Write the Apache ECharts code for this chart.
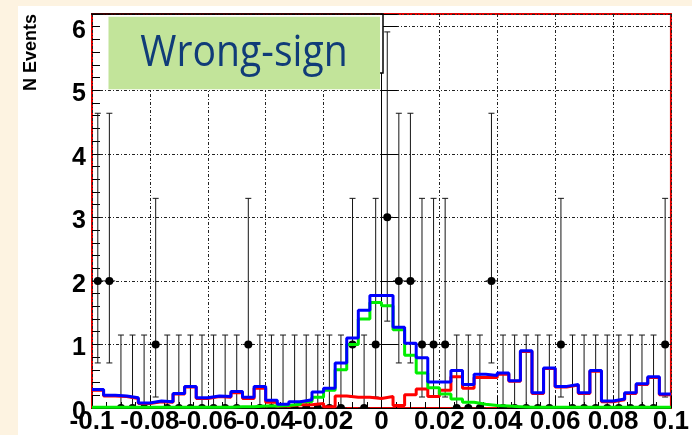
<!DOCTYPE html>
<html>
<head>
<meta charset="utf-8">
<script src="https://cdn.jsdelivr.net/npm/echarts@6/dist/echarts.min.js"></script>
<style>
  html, body { margin: 0; padding: 0; background: #fdf3e1; }
  #chart { width: 692px; height: 435px; }
</style>
</head>
<body>
<div id="chart"></div>
<script>
// Binning of the histogram: 50 bins across [-0.1, 0.1]
const BIN_MIN = -0.1;
const BIN_WIDTH = 0.004;

const xTickLabels = ['-0.1', '-0.08', '-0.06', '-0.04', '-0.02', '0', '0.02', '0.04', '0.06', '0.08', '0.1'];
const yTickLabels = ['0', '1', '2', '3', '4', '5', '6'];

// Observed events per bin
const dataCounts = [
  2, 2, 0, 0, 0, 1, 0, 0, 0, 0,
  0, 0, 0, 1, 0, 0, 0, 0, 0, 0,
  0, 0, 1, 0, 1, 3, 2, 2, 1, 1,
  1, 0, 0, 0, 2, 0, 0, 0, 0, 0,
  1, 0, 0, 0, 0, 0, 0, 0, 0, 1
];

// Total fit (blue)
const totalFit = [
  0.29, 0.20, 0.19, 0.16, 0.08, 0.11, 0.10, 0.23, 0.34, 0.16,
  0.19, 0.18, 0.26, 0.17, 0.34, 0.12, 0.06, 0.10, 0.13, 0.25,
  0.31, 0.71, 1.10, 1.54, 1.77, 1.77, 1.27, 1.02, 0.79, 0.41,
  0.41, 0.59, 0.37, 0.53, 0.51, 0.55, 0.43, 0.90, 0.24, 0.63,
  0.34, 0.37, 0.24, 0.59, 0.11, 0.14, 0.24, 0.38, 0.49, 0.22
];

// Signal component (green)
const signalFit = [
  0.01, 0.01, 0.01, 0.01, 0.01, 0.01, 0.01, 0.01, 0.01, 0.01,
  0.01, 0.01, 0.02, 0.02, 0.03, 0.03, 0.04, 0.06, 0.10, 0.17,
  0.28, 0.60, 1.00, 1.40, 1.66, 1.61, 1.23, 0.83, 0.55, 0.32,
  0.22, 0.14, 0.09, 0.06, 0.04, 0.03, 0.02, 0.01, 0.01, 0.01,
  0.01, 0.01, 0.01, 0.01, 0.01, 0.01, 0.01, 0.01, 0.01, 0.01
];

// Background component (red)
const backgroundFit = [
  0.28, 0.19, 0.18, 0.15, 0.07, 0.10, 0.09, 0.22, 0.33, 0.15,
  0.18, 0.17, 0.24, 0.15, 0.31, 0.09, 0.03, 0.05, 0.05, 0.07,
  0.02, 0.19, 0.17, 0.17, 0.15, 0.18, 0.04, 0.21, 0.30, 0.18,
  0.28, 0.49, 0.31, 0.48, 0.48, 0.53, 0.42, 0.89, 0.23, 0.62,
  0.33, 0.36, 0.23, 0.58, 0.10, 0.13, 0.23, 0.37, 0.48, 0.21
];

// 68% Poisson interval (lower / upper distance) indexed by observed count
const poissonLow = [0, 0.827, 1.291, 1.633];
const poissonHigh = [1.148, 2.299, 2.638, 2.918];

// Outline of a histogram: two points per bin at its edges
function stepPoints(values) {
  const pts = [];
  values.forEach(function (v, i) {
    const lo = BIN_MIN + i * BIN_WIDTH;
    pts.push([lo, v], [lo + BIN_WIDTH, v]);
  });
  return pts;
}

const pointData = dataCounts.map(function (n, i) {
  return [BIN_MIN + (i + 0.5) * BIN_WIDTH, n, poissonLow[n], poissonHigh[n]];
});

const LABEL_FONT = '"Liberation Sans", Arial, sans-serif';

function renderPoint(params, api) {
  const x = api.value(0), n = api.value(1), lo = api.value(2), hi = api.value(3);
  const c = api.coord([x, n]);
  const top = api.coord([x, n + hi]);
  const bot = api.coord([x, n - lo]);
  const left = api.coord([x - BIN_WIDTH / 2, n]);
  const right = api.coord([x + BIN_WIDTH / 2, n]);
  const st = { stroke: '#151515', lineWidth: 1 };
  const children = [
    { type: 'line', shape: { x1: c[0], y1: top[1], x2: c[0], y2: bot[1] }, style: st },
    { type: 'line', shape: { x1: c[0] - 3, y1: top[1], x2: c[0] + 3, y2: top[1] }, style: st },
    { type: 'line', shape: { x1: left[0], y1: c[1], x2: right[0], y2: c[1] }, style: st },
    { type: 'circle', shape: { cx: c[0], cy: c[1], r: 4 }, style: { fill: '#000' } }
  ];
  if (lo > 0) {
    children.push({ type: 'line', shape: { x1: c[0] - 3, y1: bot[1], x2: c[0] + 3, y2: bot[1] }, style: st });
  }
  return { type: 'group', children: children };
}

const chart = echarts.init(document.getElementById('chart'), null, { renderer: 'canvas' });

const gridLine = { show: true, lineStyle: { color: '#222', width: 1, type: [3, 2, 1, 2] } };

chart.setOption({
  animation: false,
  backgroundColor: '#fdf3e1',
  grid: {
    left: 92, right: 17, top: 14, bottom: 25.5,
    show: true, backgroundColor: '#ffffff', borderColor: '#e00000', borderWidth: 2
  },
  xAxis: {
    type: 'value', min: -0.1, max: 0.1, interval: 0.02,
    axisLine: { show: true, onZero: false, lineStyle: { color: '#000', width: 1 } },
    axisTick: { show: true, inside: true, length: 12, lineStyle: { color: '#000' } },
    minorTick: { show: true, splitNumber: 4, length: 6, lineStyle: { color: '#000' } },
    splitLine: gridLine,
    axisLabel: {
      show: true, margin: 1, hideOverlap: false, showMinLabel: true, showMaxLabel: true,
      fontFamily: LABEL_FONT, fontWeight: 'bold', fontSize: 26, color: '#000',
      formatter: function (v, idx) { return xTickLabels[idx] !== undefined ? xTickLabels[idx] : ''; }
    }
  },
  yAxis: [
    {
      type: 'value', min: 0, max: 6.2, interval: 1,
      axisLine: { show: true, lineStyle: { color: '#000', width: 1 } },
      axisTick: { show: true, inside: true, length: 16, lineStyle: { color: '#000' } },
      splitLine: gridLine,
      axisLabel: {
        show: true, margin: 6,
        fontFamily: LABEL_FONT, fontWeight: 'bold', fontSize: 25, color: '#000',
        formatter: function (v, idx) { return yTickLabels[idx] !== undefined ? '{n|' + yTickLabels[idx] + '}' : ''; },
        rich: { n: { fontFamily: LABEL_FONT, fontWeight: 'bold', fontSize: 25, color: '#000', padding: [8, 0, 0, 0] } }
      }
    },
    {
      // finer tick marks every 0.2
      type: 'value', min: 0, max: 6.2, interval: 0.2, position: 'left',
      axisLine: { show: false },
      axisTick: { show: true, inside: true, length: 8, lineStyle: { color: '#000' } },
      splitLine: { show: false },
      axisLabel: { show: false }
    }
  ],
  graphic: [
    { type: 'rect', z: -100, shape: { x: 18, y: 6, width: 674, height: 429 }, style: { fill: '#ffffff' }, silent: true },
    // stat box sitting behind the title
    { type: 'rect', z: 100, shape: { x: 100, y: 15, width: 283, height: 58 }, style: { fill: '#ffffff' } },
    { type: 'polyline', z: 100, shape: { points: [[91, 14], [383, 14], [383, 73], [380, 73]] }, style: { stroke: '#000', lineWidth: 1.5, fill: null } },
    { type: 'rect', z: 101, shape: { x: 108.5, y: 16.7, width: 271.5, height: 72.6 }, style: { fill: '#c2e49a' } },
    {
      type: 'text', z: 102, x: 244, y: 53, scaleX: 0.89,
      style: { text: 'Wrong-sign', font: '44px "Open Sans", sans-serif', fill: '#103c78', align: 'center', verticalAlign: 'middle' }
    },
    {
      type: 'text', z: 102, x: 31, y: 52.5, rotation: Math.PI / 2,
      style: { text: 'N Events', font: 'bold 18px "Liberation Sans", Arial, sans-serif', fill: '#000', align: 'center', verticalAlign: 'middle' }
    }
  ],
  series: [
    {
      type: 'custom', name: 'data', z: 2, clip: true,
      encode: { x: 0, y: 1 },
      data: pointData,
      renderItem: renderPoint
    },
    {
      type: 'line', name: 'background', z: 3, clip: true, symbol: 'none',
      data: stepPoints(backgroundFit),
      lineStyle: { color: '#ff0000', width: 3 }
    },
    {
      type: 'line', name: 'signal', z: 4, clip: true, symbol: 'none',
      data: stepPoints(signalFit),
      lineStyle: { color: '#00ee00', width: 3 }
    },
    {
      type: 'line', name: 'total', z: 5, clip: true, symbol: 'none',
      data: stepPoints(totalFit),
      lineStyle: { color: '#0000ff', width: 3 }
    }
  ]
});
</script>
</body>
</html>
